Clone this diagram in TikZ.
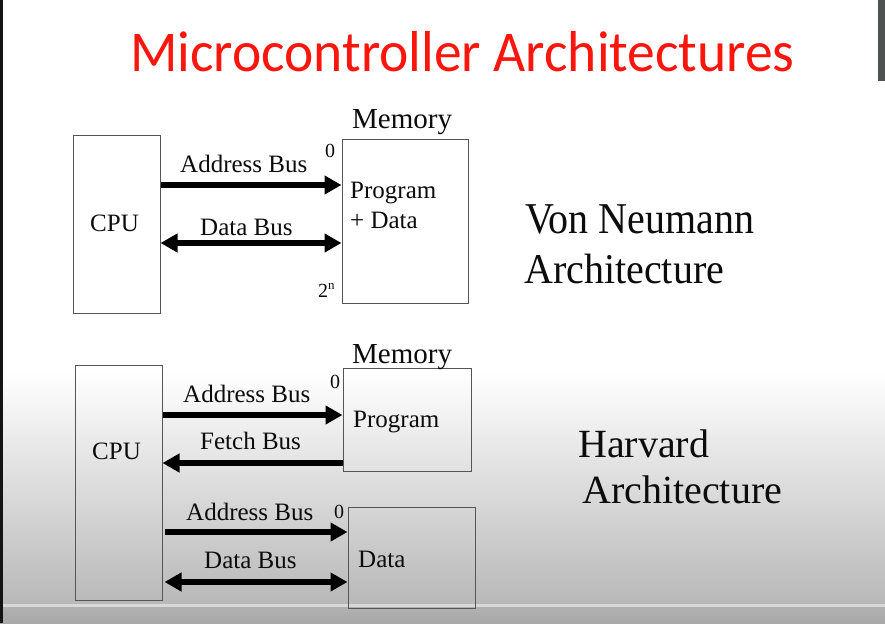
\documentclass[tikz,border=0pt]{standalone}
\usepackage{fontspec}
\setmainfont{Liberation Serif}
\newfontfamily\titlefont{Carlito}
\usetikzlibrary{arrows.meta}
\newcommand\myfs[1]{\fontsize{#1}{#1}\selectfont}
\definecolor{titlered}{RGB}{250,22,12}
\definecolor{boxline}{RGB}{85,85,85}
\definecolor{txt}{RGB}{12,12,12}
\definecolor{bggray}{RGB}{184,184,184}
\definecolor{barlight}{RGB}{216,216,216}
\definecolor{bardark}{RGB}{168,168,168}
\definecolor{sidebar}{RGB}{78,83,82}
\tikzset{
  box/.style={draw=boxline, line width=1pt, rectangle, inner sep=0pt},
  lbl/.style={anchor=base west, inner sep=0pt, text=txt, font=\myfs{25}},
  small/.style={anchor=base west, inner sep=0pt, text=txt, font=\myfs{20}},
  memlbl/.style={anchor=base west, inner sep=0pt, text=txt, font=\myfs{29}},
  big/.style={anchor=base west, inner sep=0pt, text=txt, font=\myfs{40}},
  bus/.style={line width=6pt, draw=black, -{Triangle[length=17pt,width=18pt]}},
  dbus/.style={line width=6pt, draw=black, {Triangle[length=17pt,width=18pt]}-{Triangle[length=17pt,width=18pt]}}
}
\begin{document}
\begin{tikzpicture}[x=1pt,y=-1pt]
\useasboundingbox (0,0) rectangle (885,623);
% background
\fill[white] (0,0) rectangle (885,623);
\shade[top color=white, bottom color=bggray] (0,372) rectangle (885,604);
\fill[barlight] (0,604) rectangle (885,607);
\shade[top color=bardark!90!white, bottom color=bardark] (0,607) rectangle (885,623);
\fill[black!92] (0,0) rectangle (3,623);
\fill[sidebar] (878,0) rectangle (885,81);

% title
\node[anchor=base west, inner sep=0pt, text=titlered, font=\titlefont\myfs{55.5}] (title) at (130,72) {\scalebox{1}[1.04]{Microcontroller Architectures}};

% ---------- Von Neumann ----------
\node[box, minimum width=87pt, minimum height=178pt] (cpu1) at (116.5,224) {};
\node[box, minimum width=126pt, minimum height=164pt] (mem1) at (405,221) {};
\node[lbl] (cpu1t) at (90,231) {CPU};
\node[memlbl] (mem1t) at (352,128.5) {Memory};
\node[small] (zero1) at (325,157) {0};
\node[small] (twon) at (318,297) {2\raisebox{8pt}{\myfs{13}n}};
\node[lbl] (prog1) at (350,198) {Program};
\node[lbl] (pd1) at (350,228) {+ Data};
\node[lbl] (ab1) at (180,172) {Address Bus};
\node[lbl] (db1) at (200,235) {Data Bus};
\coordinate (y1) at (0,185);
\coordinate (y2) at (0,243);
\draw[bus] (cpu1.east |- y1) -- (mem1.west |- y1);
\draw[dbus] (cpu1.east |- y2) -- (mem1.west |- y2);
\node[big] (vn1) at (525,233) {\scalebox{1}[1.1]{Von Neumann}};
\node[big] (vn2) at (524,283) {\scalebox{1}[1.06]{Architecture}};

% ---------- Harvard ----------
\node[box, minimum width=87pt, minimum height=235pt] (cpu2) at (118.5,482.5) {};
\node[box, minimum width=128pt, minimum height=103pt] (prog) at (407,419.5) {};
\node[box, minimum width=127pt, minimum height=101pt] (data) at (411.5,557.5) {};
\node[lbl] (cpu2t) at (92,459) {CPU};
\node[memlbl] (mem2t) at (352,363) {Memory};
\node[small] (zero2) at (330,388) {0};
\node[small] (zero3) at (334,518) {0};
\node[lbl] (prog2) at (353,427) {Program};
\node[lbl] (data2) at (358,567) {Data};
\node[lbl] (ab2) at (183,402) {Address Bus};
\node[lbl] (fb2) at (200,449) {Fetch Bus};
\node[lbl] (ab3) at (186,520) {Address Bus};
\node[lbl] (db3) at (204,568) {Data Bus};
\coordinate (y3) at (0,415);
\coordinate (y4) at (0,463);
\coordinate (y5) at (0,532);
\coordinate (y6) at (0,582);
\draw[bus] (cpu2.east |- y3) -- (prog.west |- y3);
\draw[bus] (prog.west |- y4) -- (cpu2.east |- y4);
\draw[bus, shorten <=2pt] (cpu2.east |- y5) -- (data.west |- y5);
\draw[dbus, shorten <=2pt] (cpu2.east |- y6) -- (data.west |- y6);
\node[big] (hv1) at (578,457) {Harvard};
\node[big] (hv2) at (582,503) {Architecture};
\end{tikzpicture}
\end{document}
